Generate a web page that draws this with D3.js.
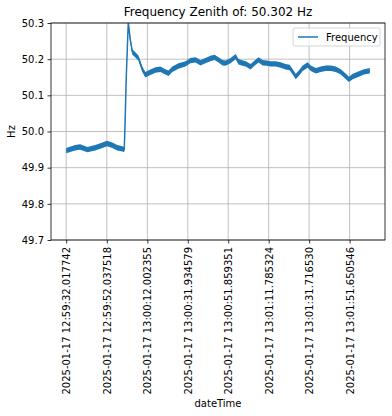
<!DOCTYPE html>
<html>
<head>
<meta charset="utf-8">
<script src="https://cdn.jsdelivr.net/npm/d3@7"></script>
<style>
  body { margin: 0; background: #fff; }
  text { font-family: "DejaVu Sans", sans-serif; fill: #000; }
</style>
</head>
<body>
<div id="chart"></div>
<script>
// data: seconds since first sample, frequency in Hz
var seconds = [0, 4.4, 6.9, 10.4, 14.3, 16.8, 20.2, 22.7, 25.2, 27.7, 28.6, 28.9, 29.6, 30.6,
  31.6, 32.6, 34.1, 35.6, 37.5, 39.0, 41.5, 44.0, 46.4, 48.9, 50.4, 52.3, 55.3, 58.8, 61.2,
  63.7, 66.2, 68.6, 71.1, 73.1, 75.1, 77.0, 78.5, 81.0, 83.5, 84.9, 86.4, 88.4, 90.9, 92.8,
  94.8, 96.8, 98.8, 100.7, 103.2, 105.7, 108.1, 110.1, 111.6, 113.1, 114.6, 116.5, 119.0,
  120.5, 123.0, 125.4, 127.9, 130.4, 132.8, 135.3, 137.8, 139.3, 141.2, 144.2, 146.7, 149.6]
var freq = [49.947, 49.955, 49.957, 49.950, 49.955, 49.960, 49.967, 49.962, 49.955, 49.952,
  49.950, 50.000, 50.150, 50.302, 50.253, 50.220, 50.212, 50.203, 50.172, 50.157, 50.164,
  50.170, 50.172, 50.165, 50.161, 50.172, 50.181, 50.187, 50.196, 50.198, 50.190, 50.196,
  50.202, 50.205, 50.198, 50.190, 50.189, 50.196, 50.207, 50.193, 50.190, 50.187, 50.179,
  50.189, 50.198, 50.190, 50.189, 50.187, 50.187, 50.184, 50.179, 50.177, 50.165, 50.152,
  50.161, 50.175, 50.184, 50.175, 50.168, 50.172, 50.175, 50.175, 50.172, 50.165, 50.152,
  50.144, 50.152, 50.159, 50.165, 50.168]

var tickLabels = ["2025-01-17 12:59:32.017742", "2025-01-17 12:59:52.037518",
  "2025-01-17 13:00:12.002355", "2025-01-17 13:00:31.934579", "2025-01-17 13:00:51.859351",
  "2025-01-17 13:01:11.785324", "2025-01-17 13:01:31.716530", "2025-01-17 13:01:51.650546"]
var yTicks = [49.7, 49.8, 49.9, 50.0, 50.1, 50.2, 50.3]

var svgWidth = 392
var svgHeight = 416
var margin = {top: 23, right: 7, bottom: 176, left: 51}
var width = svgWidth - margin.left - margin.right
var height = svgHeight - margin.top - margin.bottom

var data = seconds.map((s, i) => ({t: s, v: freq[i]}))

// tick positions from the label timestamps
function secs(label) {
  var p = label.split(" ")[1].split(":")
  return +p[0] * 3600 + +p[1] * 60 + +p[2]
}
var t0 = secs(tickLabels[0])
var tickPos = tickLabels.map(l => secs(l) - t0)

var svg = d3.select("#chart")
  .append("svg")
  .attr("width", svgWidth)
  .attr("height", svgHeight)

svg.append("defs").append("clipPath")
  .attr("id", "plot-clip")
  .append("rect")
  .attr("width", svgWidth - margin.left - margin.right)
  .attr("height", svgHeight - margin.top - margin.bottom)

var chartGroup = svg.append("g")
  .attr("transform", `translate(${margin.left}, ${margin.top})`)

var tMin = d3.min(seconds), tMax = d3.max(seconds)
var pad = (tMax - tMin) * 0.05
var xScale = d3.scaleLinear()
  .domain([tMin - pad, tMax + pad])
  .range([0, width])

var yScale = d3.scaleLinear()
  .domain([49.7, 50.3])
  .range([height, 0])

// grid
chartGroup.append("g")
  .selectAll("line")
  .data(tickPos)
  .enter()
  .append("line")
  .attr("x1", d => xScale(d)).attr("x2", d => xScale(d))
  .attr("y1", 0).attr("y2", height)
  .attr("stroke", "#b0b0b0").attr("stroke-width", 0.8)

chartGroup.append("g")
  .selectAll("line")
  .data(yTicks)
  .enter()
  .append("line")
  .attr("x1", 0).attr("x2", width)
  .attr("y1", d => yScale(d)).attr("y2", d => yScale(d))
  .attr("stroke", "#b0b0b0").attr("stroke-width", 0.8)

// noisy band + line
var plot = chartGroup.append("g").attr("clip-path", "url(#plot-clip)")

var band = d3.area()
  .x(d => xScale(d.t))
  .y0(d => yScale(d.v) - 2.7)
  .y1(d => yScale(d.v) + 2.7)

plot.append("path")
  .datum(data)
  .attr("d", band)
  .attr("fill", "#1f77b4")

var line = d3.line()
  .x(d => xScale(d.t))
  .y(d => yScale(d.v))

plot.append("path")
  .datum(data)
  .attr("d", line)
  .attr("fill", "none")
  .attr("stroke", "#1f77b4")
  .attr("stroke-width", 1.5)

// axes
var bottomAxis = d3.axisBottom(xScale)
  .tickValues(tickPos)
  .tickFormat((d, i) => tickLabels[i])
  .tickSizeInner(3.5).tickSizeOuter(0).tickPadding(3.5)
var leftAxis = d3.axisLeft(yScale)
  .tickValues(yTicks)
  .tickFormat(d3.format(".1f"))
  .tickSizeInner(3.5).tickSizeOuter(0).tickPadding(3.5)

var xAxisG = chartGroup.append("g")
  .attr("transform", `translate(0, ${height})`)
  .call(bottomAxis)
xAxisG.selectAll("text")
  .attr("transform", "rotate(-90)")
  .attr("text-anchor", "end")
  .attr("x", -7)
  .attr("y", 0)
  .attr("dy", "0.35em")

var yAxisG = chartGroup.append("g")
  .call(leftAxis)

svg.selectAll(".tick text")
  .style("font-size", "10px")
  .style("font-family", "DejaVu Sans, sans-serif")
  .attr("fill", "#000")
svg.selectAll(".tick line").attr("stroke", "#000").attr("stroke-width", 0.8)
svg.selectAll(".domain").remove()

// frame
chartGroup.append("rect")
  .attr("width", width).attr("height", height)
  .attr("fill", "none").attr("stroke", "#000").attr("stroke-width", 0.8)

// legend
var legend = chartGroup.append("g")
  .attr("transform", `translate(${width - 92}, 5)`)
legend.append("rect")
  .attr("width", 87).attr("height", 18).attr("rx", 2)
  .attr("fill", "#fff").attr("fill-opacity", 0.8)
  .attr("stroke", "#cccccc").attr("stroke-width", 0.8)
legend.append("line")
  .attr("x1", 5).attr("x2", 25).attr("y1", 9).attr("y2", 9)
  .attr("stroke", "#1f77b4").attr("stroke-width", 1.5)
legend.append("text")
  .attr("x", 33).attr("y", 12.5)
  .style("font-size", "10px")
  .text("Frequency")

// titles
svg.append("text")
  .attr("x", margin.left + width / 2)
  .attr("y", 16)
  .attr("text-anchor", "middle")
  .style("font-size", "12px")
  .text("Frequency Zenith of: 50.302 Hz")

svg.append("text")
  .attr("transform", `translate(15, ${margin.top + height / 2}) rotate(-90)`)
  .attr("text-anchor", "middle")
  .style("font-size", "10px")
  .text("Hz")

svg.append("text")
  .attr("x", margin.left + width / 2)
  .attr("y", 407)
  .attr("text-anchor", "middle")
  .style("font-size", "10px")
  .text("dateTime")
</script>
</body>
</html>
